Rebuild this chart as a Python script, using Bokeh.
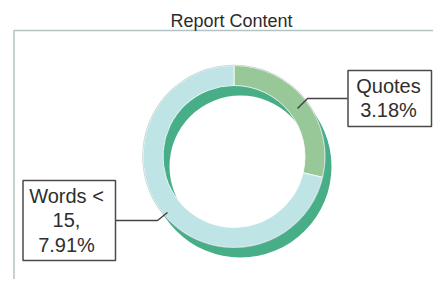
from bokeh.plotting import figure
from bokeh.models import Range1d
from bokeh.core.properties import value
from bokeh.embed import file_html
from bokeh.resources import INLINE
import math

# ---- data ----
title_text = "Report Content"
categories = ["Quotes", "Words < 15"]
percents = [3.18, 7.91]
label_lines = [["Quotes", "3.18%"], ["Words <", "15,", "7.91%"]]
colors = ["#98c898", "#bfe4e5"]
depth_color = "#47ae88"

W, H = 433, 279
p = figure(width=W, height=H, output_backend="svg", toolbar_location=None,
           x_range=Range1d(0, W), y_range=Range1d(0, H),
           min_border=0, outline_line_color=None)
p.axis.visible = False
p.grid.visible = False
p.background_fill_color = "white"
p.border_fill_color = "white"

def Y(py):
    return H - py

FONT = value("Liberation Sans")

# plot frame
p.line(x=[W, 13.5, 13.5], y=[Y(30), Y(30), Y(284)], line_color="#b3c3c3", line_width=1.5)
p.text(x=[231], y=[Y(20)], text=[title_text], text_font=FONT, text_font_size="18px",
       text_align="center", text_baseline="alphabetic", text_color="#2b2b2b")

# donut
cx, cy = 233.5, Y(156)
r_out, r_in = 91, 71
total = sum(percents)
starts, ends = [], []
a = math.pi / 2
for v in percents:
    starts.append(a)
    a = a - 2 * math.pi * v / total
    ends.append(a)

# depth ring (shifted)
p.annulus(x=[cx + 6.5], y=[cy - 10], inner_radius=r_in, outer_radius=r_out,
          inner_radius_units="screen", outer_radius_units="screen",
          fill_color=depth_color, line_color=None)
p.annular_wedge(x=[cx] * len(percents), y=[cy] * len(percents),
                inner_radius=r_in, outer_radius=r_out,
                inner_radius_units="screen", outer_radius_units="screen",
                start_angle=ends, end_angle=starts, direction="anticlock",
                fill_color=colors, line_color="#ffffff", line_width=0.8)
p.annulus(x=[cx], y=[cy], inner_radius=r_out, outer_radius=r_out + 0.8,
          inner_radius_units="screen", outer_radius_units="screen",
          fill_color="#9fb5b5", line_color=None, fill_alpha=0.6)

# leader lines
p.line(x=[347, 307, 297], y=[Y(98), Y(98), Y(108)], line_color="#444444", line_width=1.5)
p.line(x=[115, 157, 167], y=[Y(220), Y(220), Y(212)], line_color="#444444", line_width=1.5)

# label boxes
p.quad(left=[347.5, 22.5], right=[431, 115], top=[Y(70), Y(180)], bottom=[Y(126), Y(260)],
       fill_color="white", line_color="#4a4a4a", line_width=1.5)

q_lines = label_lines[0]
p.text(x=[388] * len(q_lines), y=[Y(85), Y(109)], text=q_lines, text_font=FONT,
       text_font_size="20px", text_align="center", text_baseline="alphabetic",
       text_color="#2e2e2e")
w_lines = label_lines[1]
p.text(x=[66] * len(w_lines), y=[Y(195), Y(219), Y(244)], text=w_lines, text_font=FONT,
       text_font_size="20px", text_align="center", text_baseline="alphabetic",
       text_color="#2e2e2e")

open("out.html", "w").write(file_html(p, INLINE))
